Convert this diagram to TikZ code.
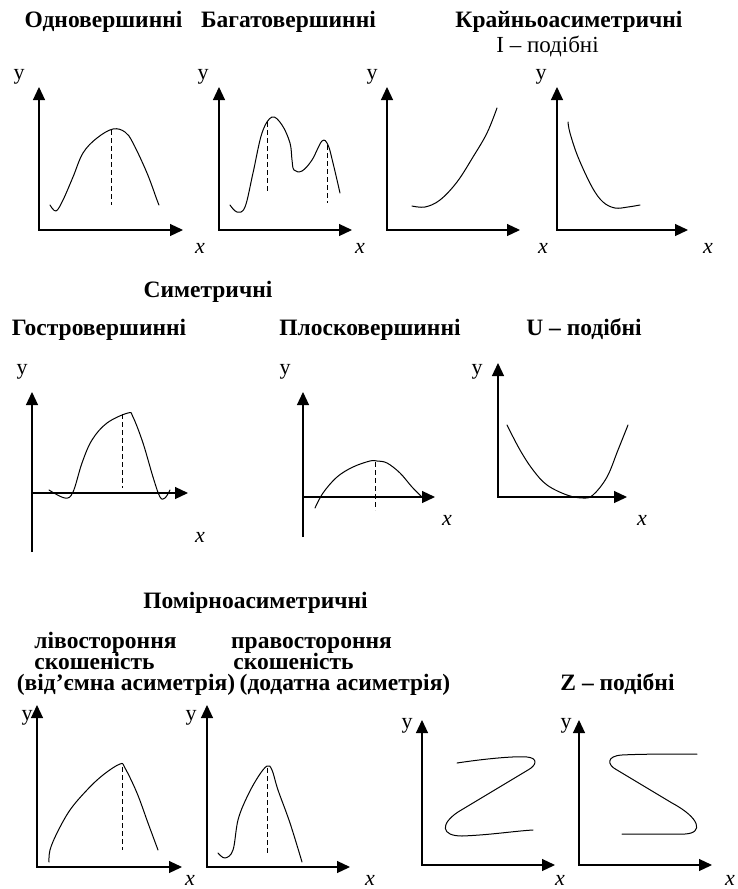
\documentclass[tikz,border=0pt]{standalone}
\usepackage{fontspec}
\setmainfont{Liberation Serif}
\usetikzlibrary{arrows.meta}
\begin{document}
\begin{tikzpicture}[x=1pt,y=-1pt,
 head/.style={font=\bfseries\fontsize{23.5}{26}\selectfont, inner sep=0, anchor=base},
 sub/.style={font=\fontsize{23}{26}\selectfont, inner sep=0, anchor=base},
 ylab/.style={font=\fontsize{22}{24}\selectfont, inner sep=0},
 xlab/.style={font=\itshape\fontsize{22}{24}\selectfont, inner sep=0},
 axis/.style={line width=1.2pt, -{Triangle[length=13pt,width=12pt]}},
 axes/.style={line width=1.2pt, {Triangle[length=13pt,width=12pt]}-{Triangle[length=13pt,width=12pt]}},
 curve/.style={line width=1pt, line join=round, line cap=round},
 guide/.style={line width=0.9pt, dash pattern=on 5pt off 3pt}]
\useasboundingbox (0,0) rectangle (738,889);

% ---------- headings ----------
\node[head] (h1) at (103.5,27) {Одновершинні};
\node[head] (h2) at (288.5,27) {Багатовершинні};
\node[head] (h3) at (569,27) {Крайньоасиметричні};
\node[sub]  (h3b) at (547.5,52) {І – подібні};
\node[head] (h4) at (208,297) {Симетричні};
\node[head] (h5) at (99,335) {Гостровершинні};
\node[head] (h6) at (370,335) {Плосковершинні};
\node[head] (h7) at (584,335) {U – подібні};
\node[head] (h8) at (255.5,608) {Помірноасиметричні};
\node[head] (h9a) at (105.5,648) {лівостороння};
\node[head] (h9b) at (94.5,669) {скошеність};
\node[head] (h9c) at (126,690) {(від’ємна асиметрія)};
\node[head] (h10a) at (311.5,648) {правостороння};
\node[head] (h10b) at (293.5,669) {скошеність};
\node[head] (h10c) at (345,690) {(додатна асиметрія)};
\node[head] (h11) at (617.5,690) {Z – подібні};

% ---------- chart 1 ----------
\coordinate (o1) at (39,230);
\draw[axes] (39,87) -- (o1) -- (183,230);
\node[ylab] (y1) at (19,77) {y};
\node[xlab] (x1) at (200,248) {x};
\draw[curve] plot[smooth, tension=0.6] coordinates {(50,205) (56,211) (63,200) (73,177) (83,153) (97,138) (113,129) (125,132) (133,143) (147,173) (157,200) (159,205)};
\draw[guide] (111,130) -- (111,205);

% ---------- chart 2 ----------
\coordinate (o2) at (219,230);
\draw[axes] (219,87) -- (o2) -- (352,230);
\node[ylab] (y2) at (203,77) {y};
\node[xlab] (x2) at (360,248) {x};
\draw[curve] plot[smooth, tension=0.6] coordinates {(230,205) (237,212) (245,207) (253,173) (262,133) (272,117) (282,125) (290,143) (292,160) (294,170) (302,171) (312,160) (322,141) (328,145) (333,163) (340,193)};
\draw[guide] (267,122) -- (267,193);
\draw[guide] (327,145) -- (327,203);

% ---------- chart 3 ----------
\coordinate (o3) at (387,230);
\draw[axes] (387,87) -- (o3) -- (520,230);
\node[ylab] (y3) at (372,77) {y};
\node[xlab] (x3) at (543,248) {x};
\draw[curve] plot[smooth, tension=0.6] coordinates {(412,206) (425,207) (440,200) (457,182) (473,157) (487,133) (497,108)};

% ---------- chart 4 ----------
\coordinate (o4) at (557,230);
\draw[axes] (557,87) -- (o4) -- (688,230);
\node[ylab] (y4) at (541,77) {y};
\node[xlab] (x4) at (708,248) {x};
\draw[curve] plot[smooth, tension=0.6] coordinates {(568,122) (570,133) (578,157) (592,187) (603,202) (615,208) (628,207) (640,205)};

% ---------- chart 5 ----------
\coordinate (b5) at (32,552);
\coordinate (l5) at (32,493);
\draw[axis] (b5) -- (32,392);
\draw[axis] (l5) -- (188,493);
\node[ylab] (y5) at (22,372) {y};
\node[xlab] (x5) at (200,537) {x};
\draw[curve] plot[smooth, tension=0.6] coordinates {(49,490) (65,498) (73,492) (82,463) (92,440) (107,423) (128,413) (133,417) (143,443) (153,477) (160,497) (165,498) (170,490)};
\draw[guide] (122,414) -- (122,488);

% ---------- chart 6 ----------
\coordinate (b6) at (303,537);
\coordinate (l6) at (303,497);
\draw[axis] (b6) -- (303,392);
\draw[axis] (l6) -- (435,497);
\node[ylab] (y6) at (285,372) {y};
\node[xlab] (x6) at (447,520) {x};
\draw[curve] plot[smooth, tension=0.6] coordinates {(315,508) (323,493) (337,477) (353,467) (370,461) (377,461) (387,463) (400,473) (412,487) (422,497)};
\draw[guide] (375,462) -- (375,510);

% ---------- chart 7 ----------
\coordinate (o7) at (498,497);
\draw[axes] (498,363) -- (o7) -- (627,497);
\node[ylab] (y7) at (477,372) {y};
\node[xlab] (x7) at (642,520) {x};
\draw[curve] plot[smooth, tension=0.6] coordinates {(507,425) (520,450) (533,470) (547,485) (567,495) (583,498) (593,495) (607,477) (618,450) (628,425)};

% ---------- chart 8 ----------
\coordinate (o8) at (37,867);
\draw[axes] (37,705) -- (o8) -- (182,867);
\node[ylab] (y8) at (27,718) {y};
\node[xlab] (x8) at (190,880) {x};
\draw[curve] plot[smooth, tension=0.6] coordinates {(49,862) (50,850) (57,833) (70,810) (87,790) (103,775) (120,764) (125,768) (137,793) (148,823) (158,850)};
\draw[guide] (122,767) -- (122,850);

% ---------- chart 9 ----------
\coordinate (o9) at (207,867);
\draw[axes] (207,705) -- (o9) -- (350,867);
\node[ylab] (y9) at (191,718) {y};
\node[xlab] (x9) at (370,880) {x};
\draw[curve] plot[smooth, tension=0.6] coordinates {(218,853) (225,858) (233,850) (238,820) (247,797) (258,777) (267,766) (272,770) (278,790) (290,823) (302,862)};
\draw[guide] (267,768) -- (267,853);

% ---------- chart 10 ----------
\coordinate (o10) at (422,865);
\draw[axes] (422,720) -- (o10) -- (555,865);
\node[ylab] (y10) at (407,726) {y};
\node[xlab] (x10) at (560,880) {x};
\draw[curve] (457,763) .. controls (490,758) and (518,756) .. (527,757)
  .. controls (538,758) and (537,765) .. (528,770) -- (458,812)
  .. controls (440,824) and (441,836) .. (462,836)
  .. controls (490,835) and (515,831) .. (533,830);

% ---------- chart 11 ----------
\coordinate (o11) at (579,865);
\draw[axes] (579,720) -- (o11) -- (712,865);
\node[ylab] (y11) at (566,726) {y};
\node[xlab] (x11) at (730,880) {x};
\draw[curve] (697,754) .. controls (670,754) and (640,754) .. (622,755)
  .. controls (606,756) and (607,765) .. (617,770) -- (672,803)
  .. controls (700,818) and (704,833) .. (685,834)
  .. controls (660,834) and (640,834) .. (622,834);
\end{tikzpicture}
\end{document}
